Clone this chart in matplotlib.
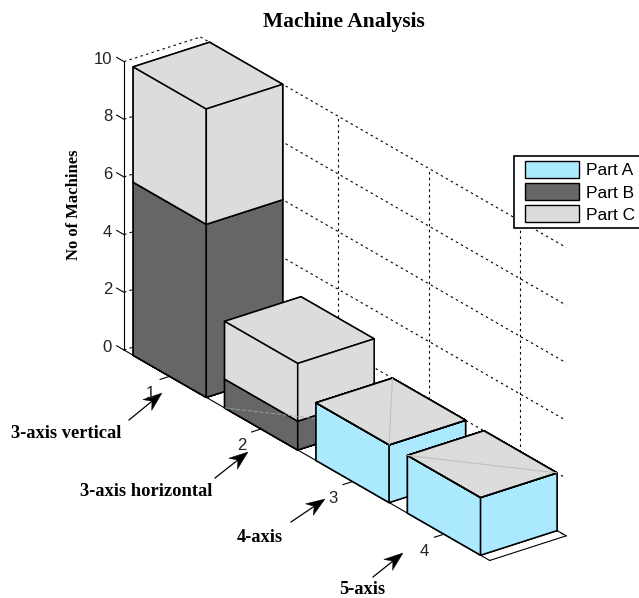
import numpy as np
import matplotlib
matplotlib.use("Agg")
import matplotlib.pyplot as plt
from matplotlib.patches import Patch, Polygon, Rectangle
from matplotlib.legend_handler import HandlerPatch
from mpl_toolkits.mplot3d import proj3d

# ---- data ----
machines = [1, 2, 3, 4]
machine_labels = ["1", "2", "3", "4"]
part_a = [0, 0, 2, 2]
part_b = [6, 1, 0, 0]
part_c = [4, 2, 0, 0]
series_names = ["Part A", "Part B", "Part C"]
z_ticks = [0, 2, 4, 6, 8, 10]
annotations = ["3-axis vertical", "3-axis horizontal", "4-axis", "5-axis"]

# ---- style ----
W, H = 639, 598
COL = ["#ABE9FF", "#666666", "#DCDCDC"]
SERIF = "Liberation Serif"
SANS = "Liberation Sans"
X0, X1, Y0, Y1, Z0, Z1 = 0.5, 4.5, 0.6, 1.4, 0, 10
DOT = (0, (2.2, 3))
BOX = (607.6, 95.0, 318.0)

fig = plt.figure(figsize=(W / 100, H / 100), dpi=100, facecolor="white")


def px(x, y):
    return x / W, 1 - y / H


ax = fig.add_axes([0, 0, 1, 1], projection="3d", proj_type="ortho",
                   computed_zorder=False)
ax.set_axis_off()
ax.set_xticks([])
ax.set_yticks([])
ax.set_zticks([])
ax.view_init(elev=25.5, azim=-36.8)

z_order = 5
for i, x in enumerate(machines):
    bottom = 0
    for vals, c in zip((part_a, part_b, part_c), COL):
        ax.bar3d(x - 0.4, Y0, bottom, 0.8, Y1 - Y0, vals[i], color=c,
                 edgecolor="black", linewidth=1.1, shade=False, zorder=z_order)
        bottom += vals[i]
        z_order += 1

# faint seams visible on the reference's faces
ax.plot([1.6, 2.4], [Y0, Y1], [0, 0], color="#8FA8B0", lw=0.6, ls=(0, (5, 2)),
        zorder=10.5)
ax.plot([2.6, 3.4], [Y1, Y0], [2, 2], color="#BDBDBD", lw=0.7, zorder=13.5)
ax.plot([3.6, 4.4], [Y0, Y1], [2, 2], color="#BDBDBD", lw=0.7, zorder=16.5)

gk = dict(color="black", lw=0.8, ls=DOT, zorder=1)
for z in z_ticks:
    ax.plot([X0, X0], [Y0, Y1], [z, z], **gk)
    ax.plot([X0, X1], [Y1, Y1], [z, z], **gk)
for x in machines:
    ax.plot([x, x], [Y1, Y1], [Z0, Z1], **gk)
    ax.plot([x, x], [Y0, Y1], [Z0, Z0], **gk)

lk = dict(color="black", lw=0.8, zorder=2)
ax.plot([X0, X0], [Y0, Y0], [Z0, Z1], **lk)
ax.plot([X0, X1], [Y0, Y0], [Z0, Z0], **lk)
ax.plot([X1, X1], [Y0, Y1], [Z0, Z0], **lk)
ax.plot([X1 - 0.1, X1], [Y1, Y1], [Z0, Z0], **lk)
for z in z_ticks:
    ax.plot([X0 - 0.08, X0], [Y0, Y0], [z, z], **lk)
for x in machines:
    ax.plot([x, x], [Y0 - 0.1, Y0], [Z0, Z0], **lk)

ax.set_xlim(X0, X1, view_margin=0)
ax.set_ylim(Y0, Y1, view_margin=0)
ax.set_zlim(Z0, Z1, view_margin=0)


# place the 3D box on the canvas from two reference corners of its floor;
# the axes stay inside the figure and the zoom provides the scale
def screen(pt):
    ax.apply_aspect()
    x2, y2, _ = proj3d.proj_transform(*pt, ax.get_proj())
    return ax.transData.transform((x2, y2))


P0, P1 = (X0, Y0, Z0), (X1, Y0, Z0)
T0, T1 = np.array([124.0, H - 350.0]), np.array([490.0, H - 560.0])
S = 520.0
ax.set_position([0, 0, S / W, S / H])
ax.set_box_aspect(BOX, zoom=1.0)
a, b = screen(P0), screen(P1)
zoom = np.linalg.norm(T1 - T0) / np.linalg.norm(b - a)
ax.set_box_aspect(BOX, zoom=zoom)
off = T0 - screen(P0)
ax.set_position([off[0] / W, off[1] / H, S / W, S / H])

for child in ax.get_children():
    child.set_clip_on(False)


# tick labels: plain figure text at the projected position of each tick
def tick_label(pt, label, ha):
    sx, sy = screen(pt)
    fig.text(sx / W, sy / H, label, ha=ha, va="center", family=SANS,
             fontsize=12, color="#222222")


for z in z_ticks:
    tick_label((X0 - 0.13, Y0, z - 0.15), str(z), "right")
for x, lab in zip(machines, machine_labels):
    tick_label((x + 0.13, Y0 - 0.33, 0), lab, "center")

# ---- text ----
fig.text(*px(344, 22), "Machine Analysis", family=SERIF, weight="bold",
         fontsize=15.5, ha="center", va="center")
fig.text(*px(74, 204.5), "No of Machines", family=SERIF, weight="bold",
         fontsize=12, rotation=90, ha="center", va="center")

spec = [((66.5, 434), (129, 420), (162, 393)),
        ((146.5, 492), (215, 478), (248, 452)),
        ((259.5, 538), (291, 522), (325, 499)),
        ((362, 590), (373, 577), (403, 553))]


def stealth(start, end, length=19.0, half=7.0, notch=13.0):
    s, e = np.array(start, float), np.array(end, float)
    u = (e - s) / np.linalg.norm(e - s)
    n = np.array([-u[1], u[0]])
    return s, e - notch * u, [e, e - length * u + half * n, e - notch * u,
                              e - length * u - half * n]


for name, (tp, start, end) in zip(annotations, spec):
    fig.text(*px(*tp), name, family=SERIF, weight="bold", fontsize=13.3,
             ha="center", va="center")
    s, e, head = stealth(start, end)
    fig.add_artist(plt.Line2D([s[0] / W, e[0] / W], [1 - s[1] / H, 1 - e[1] / H],
                              color="black", lw=0.9, transform=fig.transFigure))
    fig.add_artist(Polygon([px(*p) for p in head], closed=True, facecolor="black",
                           edgecolor="black", lw=0.3, transform=fig.transFigure))


# legend keys sit inset from the left of their handle box
def inset_key(legend, orig_handle, xdescent, ydescent, width, height, fontsize):
    return Rectangle((-xdescent + 6.5 * 0.72, -ydescent), width - 6.5 * 0.72, height)


handles = [Patch(facecolor=c, edgecolor="black", linewidth=1.0) for c in COL]
leg = fig.legend(handles, series_names, loc="upper left", bbox_to_anchor=px(514, 156),
                 borderaxespad=0, prop=dict(family=SANS, size=12.5), frameon=True,
                 fancybox=False, framealpha=1, edgecolor="black", handlelength=3.45,
                 handleheight=1.15, labelspacing=0.27, handletextpad=0.4, borderpad=0.28,
                 handler_map={Patch: HandlerPatch(patch_func=inset_key)})
leg.get_frame().set_linewidth(1.2)

fig.savefig("out.png", dpi=100)
